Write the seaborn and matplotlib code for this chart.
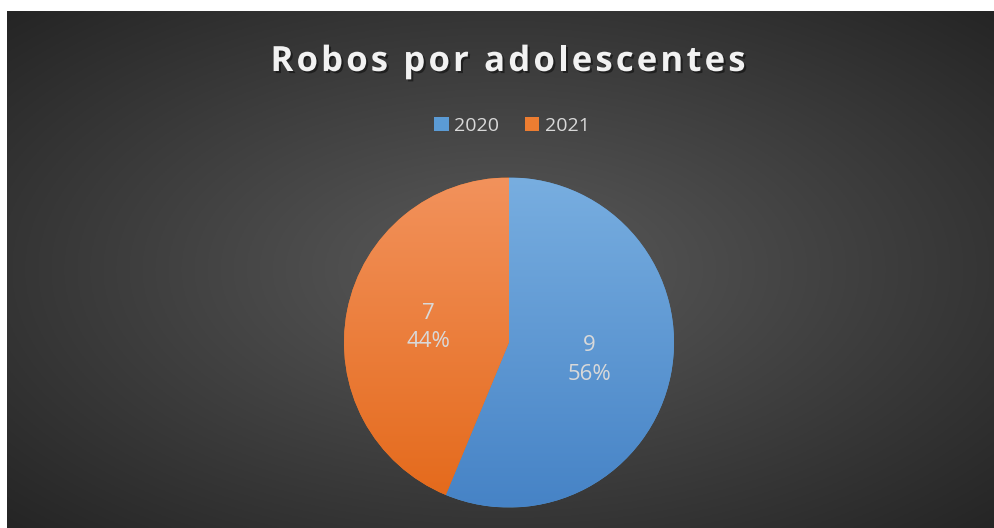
import numpy as np
import matplotlib
matplotlib.use("Agg")
import matplotlib.pyplot as plt
import matplotlib.patheffects as pe
from matplotlib.patches import Patch
import seaborn as sns

# chart data
years = ["2020", "2021"]
robos = [9, 7]
title = "Robos por adolescentes"

W, H = 995, 528
sns.set_style("white")
plt.rcParams["font.family"] = ["Open Sans", "DejaVu Sans"]

colors = sns.color_palette(["#5b9bd5", "#ed7d31"])
grad = {"2020": ("#78aee0", "#4683c6"), "2021": ("#f2925c", "#e4691a")}

fig = plt.figure(figsize=(W / 100, H / 100), dpi=100, facecolor="white")

# radial gradient background (white strip at top/left like the source)
bg = fig.add_axes([7 / W, 0, (W - 7) / W, (H - 11) / H])
bg.set_axis_off()
yy, xx = np.mgrid[-1:1:300j, -1:1:500j]
r = np.sqrt(xx ** 2 + yy ** 2) / np.sqrt(2)
shade = 0.355 - 0.21 * r
img = np.dstack([shade, shade, shade])
bg.imshow(img, aspect="auto", extent=[0, 1, 0, 1])
bg.set_xlim(0, 1)
bg.set_ylim(0, 1)

# pie
cx, cy, rad = 509, 342.5, 165
ax = fig.add_axes([(cx - rad) / W, (H - cy - rad) / H, 2 * rad / W, 2 * rad / H])
total = sum(robos)
wedges, _ = ax.pie(robos, colors=colors, startangle=90, counterclock=False,
                   radius=1, wedgeprops=dict(linewidth=0))
ax.set_xlim(-1, 1)
ax.set_ylim(-1, 1)
ax.set_axis_off()

for w, yr in zip(wedges, years):
    top, bot = grad[yr]
    c1 = np.array(matplotlib.colors.to_rgb(top))
    c2 = np.array(matplotlib.colors.to_rgb(bot))
    t = np.linspace(0, 1, 256)[:, None]
    g = (c1 * (1 - t) + c2 * t)[:, None, :]
    im = ax.imshow(g, extent=[-1, 1, -1, 1], aspect="auto", zorder=2, origin="upper")
    im.set_clip_path(w)

label_pos = [(0.485, -0.106), (-0.49, 0.091)]
for v, (lx, ly) in zip(robos, label_pos):
    ax.text(lx, ly, f"{v}\n{v / total:.0%}", ha="center", va="center",
            color="#d9d9d9", fontsize=16, linespacing=1.45, zorder=5)

# title, drawn letter by letter to get the wide tracking of the original
renderer = fig.canvas.get_renderer()
tkw = dict(fontsize=25, fontweight="bold", color="#f2f2f2", va="baseline", ha="left",
           path_effects=[pe.withSimplePatchShadow(offset=(1.5, -1.5),
                                                  shadow_rgbFace="black", alpha=0.45)])


def text_w(s):
    tmp = fig.text(0, 0, s, **tkw)
    wpx = tmp.get_window_extent(renderer).width
    tmp.remove()
    return wpx


bar_w = text_w("|")
offsets = [text_w(title[:i] + "|") - bar_w if i else 0 for i in range(len(title))]
natural = text_w(title)
target = 475
sp = (target - natural) / (len(title) - 1)
x0 = 508 - target / 2
for i, ch in enumerate(title):
    if ch == " ":
        continue
    fig.text((x0 + offsets[i] + i * sp) / W, 1 - 71 / H, ch, **tkw)

# legend
handles = [Patch(facecolor=c, edgecolor="none") for c in colors]
leg = fig.legend(handles, years, loc="center", bbox_to_anchor=(512 / W, 1 - 126 / H),
                 ncol=2, frameon=False, fontsize=14, handlelength=0.75, handleheight=0.75,
                 handletextpad=0.3, columnspacing=1.3)
for txt in leg.get_texts():
    txt.set_color("#d9d9d9")

fig.savefig("out.png", dpi=100, facecolor="white")
